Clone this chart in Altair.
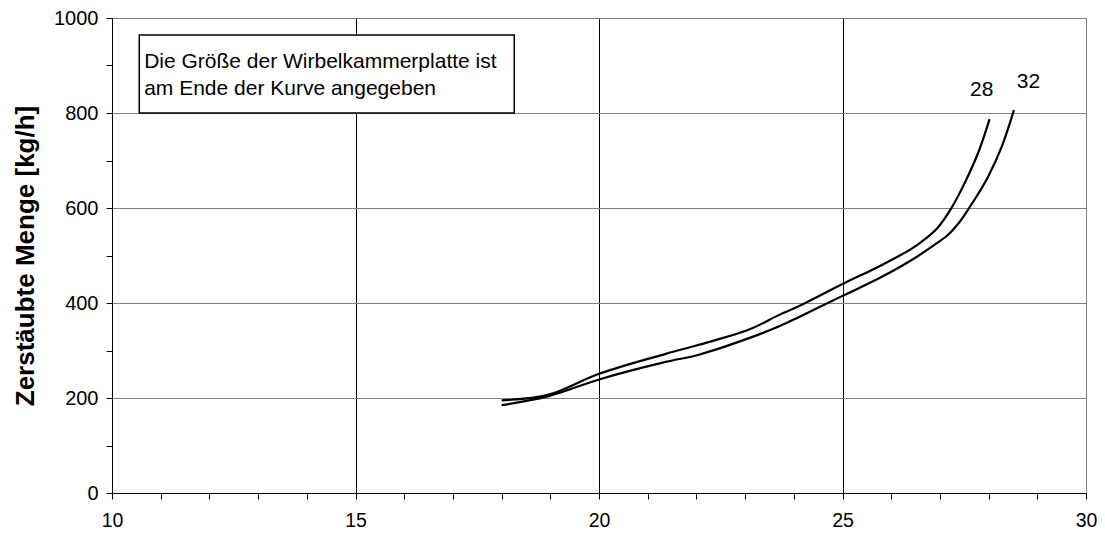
import altair as alt
import pandas as pd

# Curve "28" (Wirbelkammerplatte 28)
x28 = [18.0, 18.97, 20.0, 21.37, 22.05, 23.08, 23.7, 24.1, 25.0, 25.75, 26.43, 26.7, 26.95, 27.22, 27.52, 27.8, 28.02]
y28 = [195, 207, 251, 293, 312, 344, 375, 393, 440, 477, 515, 535, 558, 597, 655, 720, 787]

# Curve "32"
x32 = [18.0, 18.97, 20.0, 21.37, 22.05, 23.08, 23.7, 24.1, 25.0, 25.75, 26.43, 26.88, 27.15, 27.4, 27.6, 27.8, 28.0, 28.28, 28.52]
y32 = [185, 204, 239, 276, 291, 326, 351, 370, 415, 452, 491, 522, 542, 570, 600, 632, 668, 732, 806]

# End-of-curve labels
label_text = ["28", "32"]
label_x = [27.86, 28.82]
label_y = [849, 866]

note_lines = ["Die Größe der Wirbelkammerplatte ist", "am Ende der Kurve angegeben"]
y_title = "Zerstäubte Menge [kg/h]"

x_ticks = list(range(10, 31))
y_ticks = list(range(0, 1001, 50))

FONT = "Liberation Sans"

df = pd.concat([
    pd.DataFrame({"x": x28, "y": y28, "s": "28"}),
    pd.DataFrame({"x": x32, "y": y32, "s": "32"}),
])
lab = pd.DataFrame({"t": label_text, "x": label_x, "y": label_y})

xscale = alt.Scale(domain=[10, 30], nice=False, zero=False)
yscale = alt.Scale(domain=[0, 1000], nice=False)

xaxis = alt.Axis(
    title=None, values=x_ticks, format="d",
    labelExpr="datum.value % 5 === 0 ? datum.label : ''",
    labelOverlap=False, labelFlush=False, labelFont=FONT, labelFontSize=19.5, labelColor="black",
    labelPadding=12, tickSize=6, tickColor="black", domainColor="black",
    grid=True, gridColor="black", gridWidth=1,
    gridOpacity={"condition": {"test": "datum.value % 5 === 0 && datum.value < 30", "value": 1}, "value": 0},
)
yaxis = alt.Axis(
    title=y_title, values=y_ticks, format="d",
    labelExpr="datum.value % 200 === 0 ? datum.label : ''",
    labelOverlap=False, labelFlush=False, labelFont=FONT, labelFontSize=20, labelColor="black",
    labelPadding=8, tickSize=6, tickColor="black", domainColor="black",
    titleFont=FONT, titleFontSize=26, titleFontWeight="bold", titleColor="black",
    titlePadding=15,
    grid=True, gridColor="#808080", gridWidth=1,
    gridOpacity={"condition": {"test": "datum.value % 200 === 0", "value": 1}, "value": 0},
)

lines = alt.Chart(df).mark_line(color="black", strokeWidth=2.2, interpolate="catmull-rom").encode(
    x=alt.X("x:Q", scale=xscale, axis=xaxis),
    y=alt.Y("y:Q", scale=yscale, axis=yaxis),
    detail="s:N",
)

labels = alt.Chart(lab).mark_text(font=FONT, fontSize=21, color="black").encode(
    x=alt.X("x:Q", scale=xscale),
    y=alt.Y("y:Q", scale=yscale),
    text="t:N",
)

box = alt.Chart(pd.DataFrame({"a": [0]})).mark_rect(
    fill="white", stroke="black", strokeWidth=1.5
).encode(
    x=alt.datum(10.56, scale=xscale), x2=alt.datum(18.26),
    y=alt.datum(964, scale=yscale), y2=alt.datum(800),
)

note = alt.Chart(pd.DataFrame({"a": [0]})).mark_text(
    font=FONT, fontSize=21, color="black", align="left", baseline="alphabetic", lineHeight=27
).encode(
    x=alt.datum(10.66, scale=xscale),
    y=alt.datum(895, scale=yscale),
    text=alt.value(note_lines),
)

chart = alt.layer(box, note, lines, labels).properties(
    width=974, height=475,
    autosize="none",
    padding={"left": 104, "top": 10, "right": 11, "bottom": 44},
).configure_view(stroke="#808080", strokeWidth=1)

chart.save("out.html", embed_options={"renderer": "svg", "actions": False})
